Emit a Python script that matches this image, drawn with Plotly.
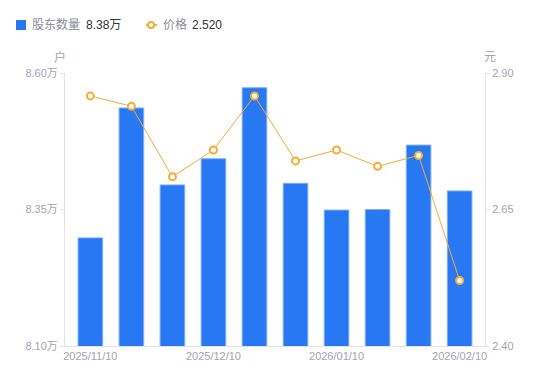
import plotly.graph_objects as go

dates = ["2025/11/10", "2025/11/20", "2025/11/30", "2025/12/10", "2025/12/20",
         "2025/12/31", "2026/01/10", "2026/01/20", "2026/01/31", "2026/02/10"]
holders_wan = [8.298, 8.536, 8.395, 8.443, 8.573, 8.398, 8.349, 8.350, 8.468, 8.384]
prices = [2.858, 2.839, 2.710, 2.759, 2.858, 2.739, 2.759, 2.729, 2.749, 2.520]
tick_dates = ["2025/11/10", "2025/12/10", "2026/01/10", "2026/02/10"]
left_ticks = [8.10, 8.35, 8.60]
right_ticks = [2.40, 2.65, 2.90]
series_names = ["股东数量", "价格"]
units = ["户", "元"]

FONT = "Liberation Sans, Arial, Noto Sans CJK SC, sans-serif"
GRAY = "#a3a3b3"
LEG_GRAY = "#8c8c9a"
DARK = "#333333"
BLUE = "#2778f2"
ORANGE = "#f7ac33"

W, H = 550, 381
ML, MR, MT, MB = 65, 65, 73, 35
PW, PH = W - ML - MR, H - MT - MB


def px(x):
    return (x - ML) / PW


def py(y):
    return (H - MB - y) / PH


fig = go.Figure()
fig.add_trace(go.Bar(
    x=dates, y=holders_wan, width=0.6,
    marker=dict(color=BLUE, line=dict(color="#7fb0f8", width=1)),
    name=series_names[0], yaxis="y", showlegend=False,
))
fig.add_trace(go.Scatter(
    x=dates, y=prices, mode="lines+markers",
    line=dict(color=ORANGE, width=1),
    marker=dict(symbol="circle", size=7, color="white", line=dict(color=ORANGE, width=2)),
    name=series_names[1], yaxis="y2", showlegend=False,
))

shapes = [
    dict(type="rect", xref="paper", yref="paper", x0=px(16), x1=px(26), y0=py(30), y1=py(20),
         fillcolor=BLUE, line=dict(width=0)),
    dict(type="line", xref="paper", yref="paper", x0=px(146), x1=px(157), y0=py(25), y1=py(25),
         line=dict(color=ORANGE, width=2)),
    dict(type="circle", xref="paper", yref="paper", x0=px(148), x1=px(154), y0=py(28), y1=py(22),
         fillcolor="white", line=dict(color=ORANGE, width=2)),
]

def ann(text, x, y, color, size=12, anchor="left"):
    return dict(text=text, xref="paper", yref="paper", x=px(x), y=py(y), showarrow=False,
                xanchor=anchor, yanchor="middle", font=dict(size=size, color=color))

annotations = [
    ann(series_names[0], 30, 25, LEG_GRAY),
    ann("%.2f万" % holders_wan[-1], 84, 25, DARK),
    ann(series_names[1], 161, 25, LEG_GRAY),
    ann("%.3f" % prices[-1], 190, 25, DARK),
    ann(units[0], 60, 57, GRAY, anchor="center"),
    ann(units[1], 490, 57, GRAY, anchor="center"),
]

fig.update_layout(
    width=W, height=H,
    margin=dict(l=ML, r=MR, t=MT, b=MB, autoexpand=False),
    paper_bgcolor="white", plot_bgcolor="white",
    font=dict(family=FONT, size=11, color=GRAY),
    showlegend=False,
    bargap=0.4,
    hovermode=False,
    xaxis=dict(type="category", tickvals=tick_dates, ticktext=tick_dates,
               showline=True, linecolor="#e3e3e8", linewidth=1, ticks="",
               showgrid=False, tickfont=dict(size=11, color=GRAY), tickangle=0,
               automargin=False),
    yaxis=dict(range=[8.10, 8.60], tickvals=left_ticks,
               ticktext=["%.2f万" % v for v in left_ticks],
               showline=True, linecolor="#e3e3e8", linewidth=1,
               ticks="outside", ticklen=4, tickcolor="#e3e3e8",
               showgrid=False, zeroline=False, tickfont=dict(size=11, color=GRAY),
               automargin=False),
    yaxis2=dict(range=[2.40, 2.90], tickvals=right_ticks,
                ticktext=["%.2f" % v for v in right_ticks],
                overlaying="y", side="right",
                showline=True, linecolor="#e3e3e8", linewidth=1,
                ticks="outside", ticklen=4, tickcolor="#e3e3e8",
                showgrid=False, zeroline=False, tickfont=dict(size=11, color=GRAY),
                automargin=False),
    shapes=shapes,
    annotations=annotations,
)

fig.write_html("out.html", config={"displayModeBar": False},
               post_script="document.body.style.margin='0';")
